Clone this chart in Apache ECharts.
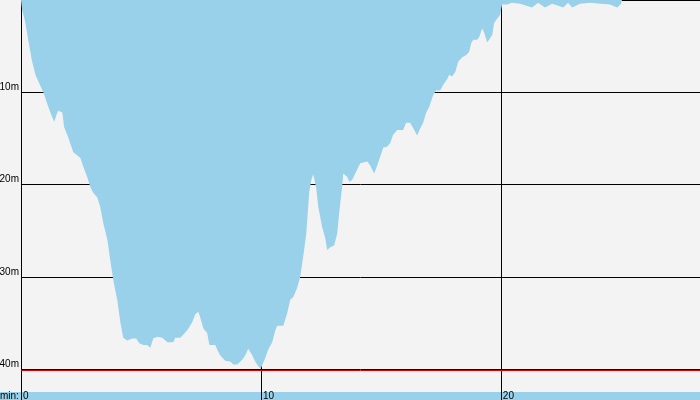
<!DOCTYPE html>
<html>
<head>
<meta charset="utf-8">
<style>html,body{margin:0;padding:0;background:#f3f3f3;}#c{width:700px;height:400px;}</style>
<script src="https://cdn.jsdelivr.net/npm/echarts@6/dist/echarts.min.js"></script>
</head>
<body>
<div id="c"></div>
<script>
// Dive profile: time (min) and depth (m)
var timeMin = [0,0.05,0.16,0.30,0.45,0.60,0.93,1.14,1.30,1.39,1.47,1.55,1.72,1.80,1.97,2.18,2.47,2.60,2.76,2.89,3.01,3.18,3.30,3.43,3.60,3.72,3.85,4.01,4.14,4.26,4.43,4.51,4.64,4.80,4.93,5.10,5.26,5.39,5.51,5.68,5.89,6.10,6.35,6.43,6.64,6.76,6.93,7.14,7.26,7.39,7.47,7.60,7.76,7.85,8.10,8.18,8.30,8.51,8.72,8.85,9.01,9.22,9.35,9.47,9.64,9.76,9.89,9.99,10.08,10.18,10.30,10.47,10.60,10.68,10.93,11.10,11.22,11.35,11.51,11.64,11.72,11.80,11.89,11.97,12.01,12.10,12.18,12.30,12.39,12.55,12.68,12.76,12.89,13.05,13.18,13.26,13.39,13.43,13.60,13.68,13.80,13.93,14.14,14.43,14.55,14.72,14.85,14.97,15.10,15.26,15.39,15.51,15.68,15.93,16.05,16.22,16.35,16.51,16.64,16.76,16.89,17.01,17.18,17.30,17.47,17.60,17.76,17.85,17.97,18.10,18.22,18.39,18.55,18.68,18.76,18.85,19.01,19.10,19.22,19.30,19.43,19.51,19.64,19.72,19.85,19.97,20.05,20.10,20.26,20.47,20.80,21.30,21.55,21.84,22.14,22.60,22.80,22.97,23.30,23.72,24.14,24.55,24.85,25.01,25.05];
var depthM = [0,1.1,2.2,4.3,6.5,8.1,10.0,11.6,12.7,13.2,12.5,12.0,12.2,13.8,14.9,16.5,17.1,18.1,19.2,20.3,20.9,21.4,22.4,24.2,26.0,28.2,30.4,32.5,34.9,36.6,36.9,37.1,36.7,36.7,37.2,37.4,37.4,37.7,36.7,36.5,36.6,37.1,37.1,36.6,36.6,36.3,35.8,34.9,34.1,33.8,34.4,35.6,36.1,37.4,37.4,37.9,38.5,39.1,39.2,39.5,39.5,39.0,38.5,37.8,38.5,39.2,39.7,40.0,39.4,38.8,37.9,37.1,35.8,35.3,35.3,33.9,32.5,32.2,31.2,30.0,28.5,27.1,25.3,22.4,20.9,19.5,18.9,20.3,22.4,24.6,25.8,27.1,26.8,26.6,25.3,23.1,20.1,18.8,19.2,19.7,19.5,18.8,17.7,17.5,17.9,18.8,17.9,17.0,16.0,15.9,15.5,14.6,14.1,14.1,13.3,13.3,13.9,14.7,13.9,13.3,12.2,11.6,10.3,9.8,9.8,9.2,8.6,8.1,8.3,7.8,6.7,6.2,6.0,5.6,4.7,4.3,4.3,4.0,3.1,3.5,4.6,4.6,3.8,2.5,2.0,1.6,0.5,0.3,0.5,0.3,0.4,0.8,0.3,0.8,0.4,0.8,0.3,0.8,0.4,0.3,0.4,0.5,0.8,0.4,0];
var maxDepthLine = 40.18;
var yTicks = [10, 20, 30, 40];
var xTicks = [0, 10, 20];

var fill = '#99d1ea';
var red = '#e00000';
var font = '"Liberation Sans", Arial, sans-serif';
var points = timeMin.map(function (t, i) { return [t, depthM[i]]; });
var chart = echarts.init(document.getElementById('c'), null, {renderer: 'canvas'});
chart.setOption({
  backgroundColor: '#f3f3f3',
  animation: false,
  grid: {left: 21, right: 0, top: 0, bottom: 0, containLabel: false, outerBoundsMode: 'none'},
  graphic: [
    {type: 'rect', z: -1, shape: {x: 0, y: 392, width: 700, height: 8}, style: {fill: fill}},
    {type: 'text', left: 0, top: 391, style: {text: 'min:', font: '10px ' + font, fill: '#000'}}
  ],
  xAxis: {
    type: 'value', min: 0, max: 28.3, interval: 10,
    axisLine: {show: false}, axisTick: {show: false},
    splitLine: {show: true, lineStyle: {color: '#000', width: 1}},
    axisLabel: {inside: true, margin: 9, verticalAlign: 'top', align: 'left', padding: [0, 0, 0, 2],
      color: '#000', fontFamily: font, fontSize: 10, showMaxLabel: false,
      formatter: function (v) { return xTicks.indexOf(v) >= 0 ? String(v) : ''; }}
  },
  yAxis: {
    type: 'value', inverse: true, min: 0, max: 43.36, interval: 10,
    axisLine: {show: true, lineStyle: {color: '#000', width: 1}}, axisTick: {show: false},
    splitLine: {show: true, lineStyle: {color: '#000', width: 1}},
    axisLabel: {margin: 2, verticalAlign: 'bottom', color: '#000', fontFamily: font, fontSize: 10,
      showMinLabel: false,
      formatter: function (v) { return yTicks.indexOf(v) >= 0 ? v + 'm' : ''; }}
  },
  series: [{
    type: 'line', data: points, showSymbol: false, symbol: 'none',
    lineStyle: {width: 0}, areaStyle: {color: fill, opacity: 1}, z: 1,
    markLine: {silent: true, symbol: ['none', 'none'], label: {show: false}, z: 5,
      lineStyle: {color: red, width: 1, type: 'solid', opacity: 1},
      data: [{yAxis: maxDepthLine, lineStyle: {color: red, width: 1, type: 'solid'}}]}
  }]
});
</script>
</body>
</html>
